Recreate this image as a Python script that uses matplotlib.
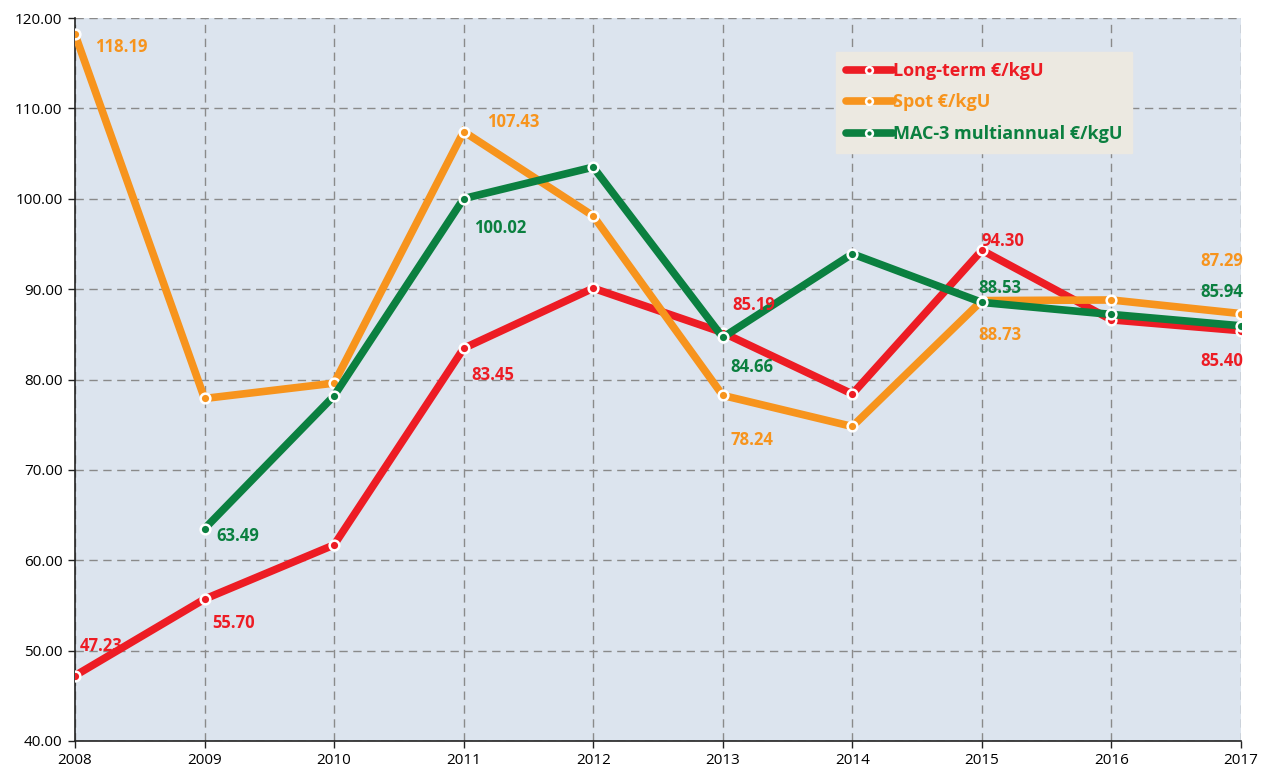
import matplotlib
matplotlib.use("Agg")
import matplotlib.pyplot as plt
import numpy as np

years = [2008, 2009, 2010, 2011, 2012, 2013, 2014, 2015, 2016, 2017]
long_term = [47.23, 55.70, 61.7, 83.45, 90.1, 85.19, 78.4, 94.30, 86.6, 85.40]
spot = [118.19, 77.9, 79.6, 107.43, 98.1, 78.24, 74.8, 88.73, 88.8, 87.29]
mac3_years = [2009, 2010, 2011, 2012, 2013, 2014, 2015, 2016, 2017]
mac3 = [63.49, 78.2, 100.02, 103.5, 84.66, 93.9, 88.53, 87.2, 85.94]

y_ticks = [40, 50, 60, 70, 80, 90, 100, 110, 120]

RED = "#ed1c24"
ORANGE = "#f7941d"
GREEN = "#0b8040"

plt.rcParams['font.family'] = ['Open Sans', 'DejaVu Sans']

fig = plt.figure(figsize=(12.65, 7.71), dpi=100)
ax = fig.add_axes([75/1265, 30/771, (1241-75)/1265, (741-18)/771])
ax.set_facecolor("#dce4ee")

def draw(x, y, c, label):
    ax.plot(x, y, color=c, lw=5.5, solid_capstyle='round', solid_joinstyle='miter',
            marker='o', ms=7, mfc=c, mec='white', mew=1.8, label=label, zorder=3)

draw(years, long_term, RED, "Long-term €/kgU")
draw(years, spot, ORANGE, "Spot €/kgU")
draw(mac3_years, mac3, GREEN, "MAC-3 multiannual €/kgU")

# value labels: (x, value, color, dx px, dy px)
labels = [
    (2008, 118.19, ORANGE, 20, -13),
    (2008, 47.23, RED, 5, 30),
    (2009, 55.70, RED, 8, -24),
    (2009, 63.49, GREEN, 12, -7),
    (2011, 83.45, RED, 8, -27),
    (2011, 107.43, ORANGE, 23, 10),
    (2011, 100.02, GREEN, 10, -29),
    (2013, 85.19, RED, 10, 28),
    (2013, 84.66, GREEN, 8, -30),
    (2013, 78.24, ORANGE, 8, -45),
    (2015, 94.30, RED, 0, 9),
    (2015, 88.53, GREEN, -4, 14),
    (2015, 88.73, ORANGE, -4, -34),
    (2017, 87.29, ORANGE, -41, 53),
    (2017, 85.94, GREEN, -41, 34),
    (2017, 85.40, RED, -41, -30),
]
for (x, v, c, dx, dy) in labels:
    ax.annotate(f"{v:.2f}", (x, v), xytext=(dx, dy), textcoords='offset pixels',
                color=c, fontsize=12, fontweight='bold', va='center', ha='left',
                zorder=5)

ax.set_xlim(2008, 2017)
ax.set_ylim(40, 120)
ax.set_xticks(years)
ax.set_xticklabels([str(y) for y in years], fontsize=11)
ax.set_yticks(y_ticks)
ax.set_yticklabels([f"{v:.2f}" for v in y_ticks], fontsize=11)
ax.grid(True, color='#8a8a8a', linestyle=(0, (6, 4)), lw=1, zorder=1)
ax.set_axisbelow(True)
for s in ['top', 'right']:
    ax.spines[s].set_visible(False)
for s in ['left', 'bottom']:
    ax.spines[s].set_color('#222222')
    ax.spines[s].set_linewidth(1.2)
ax.tick_params(axis='both', direction='out', length=5, width=1, color='#222222', pad=4)

leg = ax.legend(loc='upper left', bbox_to_anchor=((836-75)/1166, (741-52)/723),
                borderaxespad=0,
                frameon=True, fancybox=False, handlelength=2.6, handletextpad=0.0,
                labelspacing=0.75, borderpad=0.55, prop={'weight': 'bold', 'size': 13},
                labelcolor='linecolor', markerscale=0.7)
leg.get_frame().set_facecolor('#ece9e1')
leg.get_frame().set_edgecolor('#ece9e1')
leg.get_frame().set_alpha(1)
leg.set_zorder(6)

fig.savefig("out.png", dpi=100)
